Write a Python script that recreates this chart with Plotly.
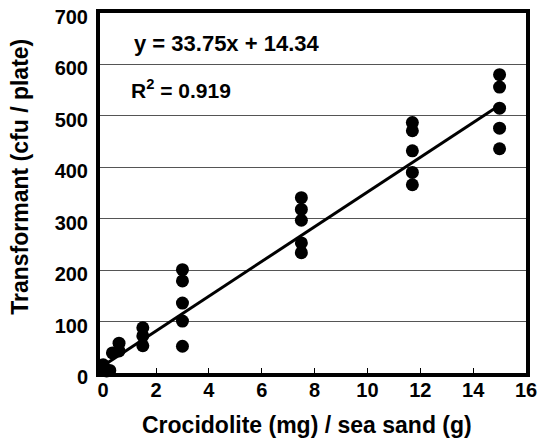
import plotly.graph_objects as go

# Data
x_vals = [0, 0, 0.13, 0.25,
          0.35, 0.6, 0.6,
          1.5, 1.5, 1.5,
          3, 3, 3, 3, 3,
          7.5, 7.5, 7.5, 7.5, 7.5,
          11.7, 11.7, 11.7, 11.7, 11.7,
          15, 15, 15, 15, 15]
y_vals = [16, 6, 4, 5,
          39, 58, 43,
          88, 72, 53,
          201, 179, 136, 101, 52,
          341, 318, 297, 253, 234,
          487, 471, 432, 390, 366,
          580, 556, 515, 476, 436]

slope = 33.75
intercept = 14.34
fit_x = [0, 15]
fit_y = [slope * v + intercept for v in fit_x]

x_ticks = [0, 2, 4, 6, 8, 10, 12, 14, 16]
y_ticks = [0, 100, 200, 300, 400, 500, 600, 700]

FONT = "Liberation Sans"

fig = go.Figure()
fig.add_trace(go.Scatter(x=fit_x, y=fit_y, mode="lines", cliponaxis=False,
                         line=dict(color="black", width=3), showlegend=False))
fig.add_trace(go.Scatter(x=x_vals, y=y_vals, mode="markers", cliponaxis=False,
                         marker=dict(color="black", size=13), showlegend=False))

fig.add_annotation(x=0.075, y=0.915, xref="paper", yref="paper", xanchor="left", yanchor="middle",
                   text="<b>y = 33.75x + 14.34</b>", showarrow=False,
                   font=dict(family=FONT, size=22, color="black"))
fig.add_annotation(x=0.068, y=0.79, xref="paper", yref="paper", xanchor="left", yanchor="middle",
                   text="<b>R<sup>2</sup> = 0.919</b>", showarrow=False,
                   font=dict(family=FONT, size=21, color="black"))
# axis titles
fig.add_annotation(x=0.486, y=-0.144, xref="paper", yref="paper", xanchor="center", yanchor="middle",
                   text="<b>Crocidolite (mg) / sea sand (g)</b>", showarrow=False,
                   font=dict(family=FONT, size=23, color="black"))
fig.add_annotation(x=-0.187, y=0.546, xref="paper", yref="paper", xanchor="center", yanchor="middle",
                   text="<b>Transformant (cfu / plate)</b>", showarrow=False, textangle=-90,
                   font=dict(family=FONT, size=23, color="black"))

fig.update_layout(
    width=540, height=444,
    margin=dict(l=100, r=14, t=13, b=71),
    paper_bgcolor="white", plot_bgcolor="white",
    font=dict(family=FONT, size=20, color="black"),
    xaxis=dict(range=[-0.12, 16], tickvals=x_ticks, ticktext=[f"<b>{t}</b>" for t in x_ticks],
               automargin=False, ticklabeloverflow="allow",
               showgrid=False, zeroline=False, showline=True, linecolor="black", linewidth=4,
               mirror=True, ticks="inside", ticklen=5, tickwidth=1, tickcolor="black",
               tickfont=dict(size=20), ticklabelstandoff=-4),
    yaxis=dict(range=[0, 700], tickvals=y_ticks, ticktext=[f"<b>{t}</b>" for t in y_ticks],
               automargin=False, ticklabeloverflow="allow",
               showgrid=True, gridcolor="#555555", gridwidth=1, zeroline=False,
               showline=True, linecolor="black", linewidth=4, mirror=True, ticks="",
               tickfont=dict(size=20), ticklabelstandoff=4, ticklabelshift=4),
)

fig.write_html("out.html", config={"displayModeBar": False},
               post_script="document.body.style.margin='0';document.body.style.overflow='hidden';")
